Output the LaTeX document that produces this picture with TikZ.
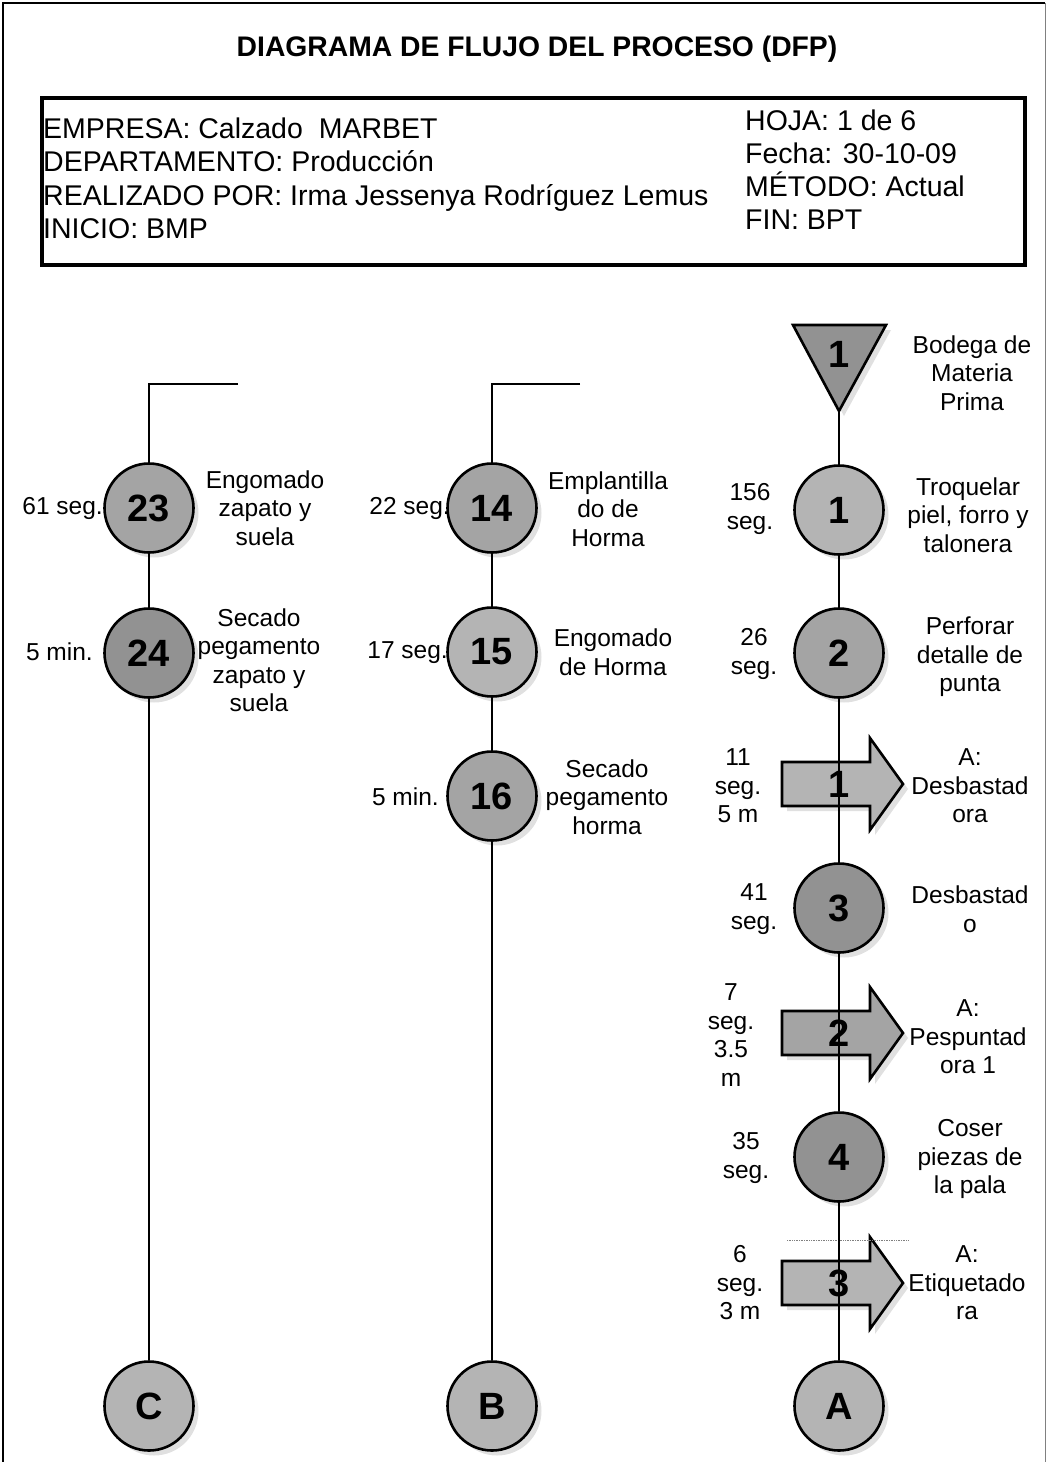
\documentclass[tikz,border=0pt]{standalone}
\usepackage{fontspec}
\setmainfont{Liberation Sans}
\usetikzlibrary{shadows,calc}
\definecolor{clight}{RGB}{180,180,180}
\definecolor{cmid}{RGB}{164,164,164}
\definecolor{cdark}{RGB}{146,146,146}
\newcommand\dfpnum{\fontsize{38}{40}\selectfont\bfseries}
\newcommand\dfplbl{\fontsize{24.5}{28.5}\selectfont}
\newcommand\dfphdr{\fontsize{28.5}{33}\selectfont}
\newcommand\dfptitle{\fontsize{28.3}{32}\selectfont\bfseries}
\tikzset{
  conn/.style={line width=1.8pt},
  softshadow/.style={drop shadow={shadow xshift=5pt, shadow yshift=-5pt, fill=black!30, opacity=0.4}},
  proc/.style={circle, draw=black, line width=2.6pt, minimum size=89pt, inner sep=0pt, font=\dfpnum, softshadow},
  lbl/.style={align=center, inner sep=0pt, font=\dfplbl},
  hdr/.style={anchor=base west, inner sep=0pt, font=\dfphdr},
  shapeline/.style={draw=black, line width=2.6pt, line join=miter},
  numtxt/.style={inner sep=0pt, font=\dfpnum}
}
\newcommand\dfparrow[4]{%
  \draw[shapeline, fill=#4, softshadow] ({#2-57},{#3-22}) -- ({#2+31},{#3-22}) -- ({#2+31},{#3-46}) -- ({#2+64},{#3}) -- ({#2+31},{#3+46}) -- ({#2+31},{#3+22}) -- ({#2-57},{#3+22}) -- cycle;
  \coordinate (#1) at (#2,#3);}
\begin{document}
\begin{tikzpicture}[x=1pt,y=-1pt]
\useasboundingbox (0,0) rectangle (1047,1462);
% outer frame
\draw[line width=2.2pt] (3,1462) -- (3,3) -- (1045,3);
\draw[line width=1pt, gray] (1045.5,3) -- (1045.5,1462);
% title and header
\node[font=\dfptitle, anchor=base, inner sep=0pt] (title) at (537,56) {DIAGRAMA DE FLUJO DEL PROCESO (DFP)};
\node[draw, line width=3.5pt, minimum width=983pt, minimum height=167pt, inner sep=0pt, anchor=north west] (hbox) at (40,96) {};
\node[hdr] (h1) at (43,138) {EMPRESA: Calzado\ \ MARBET};
\node[hdr] (h2) at (43,171.5) {DEPARTAMENTO: Producción};
\node[hdr] (h3) at (43,205) {REALIZADO POR: Irma Jessenya Rodríguez Lemus};
\node[hdr] (h4) at (43,238) {INICIO: BMP};
\node[hdr] (h5) at (745,130) {HOJA: 1 de 6};
\node[hdr] (h6) at (745,163) {Fecha: 30-10-09};
\node[hdr] (h7) at (745,196.5) {MÉTODO: Actual};
\node[hdr] (h8) at (745,229) {FIN: BPT};

% ---------- column A shapes (arrows + triangle first)
\dfparrow{a1}{839}{784}{clight}
\dfparrow{a2}{839}{1033}{cmid}
\dfparrow{a3}{839}{1283}{clight}
\draw[shapeline, fill=cdark, softshadow] (793,325) -- (886,325) -- (839,411) -- cycle;
\coordinate (triapex) at (839,411);
\node[numtxt] (t1) at (839,354) {1};

\coordinate (dl1) at (787,1240);
\coordinate (dl2) at (908,1240);
\draw[densely dotted, gray, line width=0.7pt] (dl1) -- (dl2);

% ---------- circles
\node[proc, fill=clight] (c1) at (839,510) {1};
\node[proc, fill=cmid] (c2) at (839,653) {2};
\node[proc, fill=cdark] (c3) at (839,908) {3};
\node[proc, fill=cdark] (c4) at (839,1157) {4};
\node[proc, fill=clight] (cA) at (839,1406) {A};

\node[proc, fill=cmid] (c14) at (492,508) {14};
\node[proc, fill=clight] (c15) at (492,652) {15};
\node[proc, fill=cmid] (c16) at (492,796) {16};
\node[proc, fill=clight] (cB) at (492,1406) {B};

\node[proc, fill=cmid] (c23) at (149,508) {23};
\node[proc, fill=cdark] (c24) at (149,653) {24};
\node[proc, fill=clight] (cC) at (149,1406) {C};

% ---------- connectors
\draw[conn] (triapex) -- (c1);
\draw[conn] (c1) -- (c2);
\draw[conn] (c2) -- (a1) -- (c3);
\draw[conn] (c3) -- (a2) -- (c4);
\draw[conn] (c4) -- (a3) -- (cA);

\coordinate (btopr) at (580,384);
\coordinate (btop) at (492,384);
\draw[conn] (btopr) -- (btop) -- (c14);
\draw[conn] (c14) -- (c15);
\draw[conn] (c15) -- (c16);
\draw[conn] (c16) -- (cB);

\coordinate (ctopr) at (238,384);
\coordinate (ctop) at (149,384);
\draw[conn] (ctopr) -- (ctop) -- (c23);
\draw[conn] (c23) -- (c24);
\draw[conn] (c24) -- (cC);

% arrow numbers
\node[numtxt] (a1n) at (a1) {1};
\node[numtxt] (a2n) at (a2) {2};
\node[numtxt] (a3n) at (a3) {3};

% ---------- labels column A
\node[lbl] (la0) at (972,373) {Bodega de\\Materia\\Prima};
\node[lbl] (la1) at (968,515) {Troquelar\\piel, forro y\\talonera};
\node[lbl] (la2) at (970,657) {Perforar\\detalle de\\punta};
\node[lbl] (la3) at (970,786) {A:\\Desbastad\\ora};
\node[lbl] (la4) at (970,909) {Desbastad\\o};
\node[lbl] (la5) at (968,1037) {A:\\Pespuntad\\ora 1};
\node[lbl] (la6) at (970,1159) {Coser\\piezas de\\la pala};
\node[lbl] (la7) at (967,1283) {A:\\Etiquetado\\ra};

\node[lbl] (ta1) at (750,509) {156\\seg.};
\node[lbl] (ta2) at (754,654) {26\\seg.};
\node[lbl] (ta3) at (738,786) {11\\seg.\\5 m};
\node[lbl] (ta4) at (754,909) {41\\seg.};
\node[lbl] (ta5) at (731,1035) {7\\seg.\\3.5\\m};
\node[lbl] (ta6) at (746,1158) {35\\seg.};
\node[lbl] (ta7) at (740,1283) {6\\seg.\\3 m};

% ---------- labels column B
\node[lbl, anchor=east] (tb1) at (450,508) {22 seg.};
\node[lbl, anchor=east] (tb2) at (448,653) {17 seg.};
\node[lbl, anchor=east] (tb3) at (439,797) {5 min.};
\node[lbl] (lb1) at (608,509) {Emplantilla\\do de\\Horma};
\node[lbl] (lb2) at (613,652) {Engomado\\de Horma};
\node[lbl] (lb3) at (607,797) {Secado\\pegamento\\horma};

% ---------- labels column C
\node[lbl, anchor=east] (tc1) at (103,508) {61 seg.};
\node[lbl, anchor=east] (tc2) at (93,652) {5 min.};
\node[lbl] (lc1) at (265,508) {Engomado\\zapato y\\suela};
\node[lbl] (lc2) at (259,660) {Secado\\pegamento\\zapato y\\suela};
\end{tikzpicture}
\end{document}
